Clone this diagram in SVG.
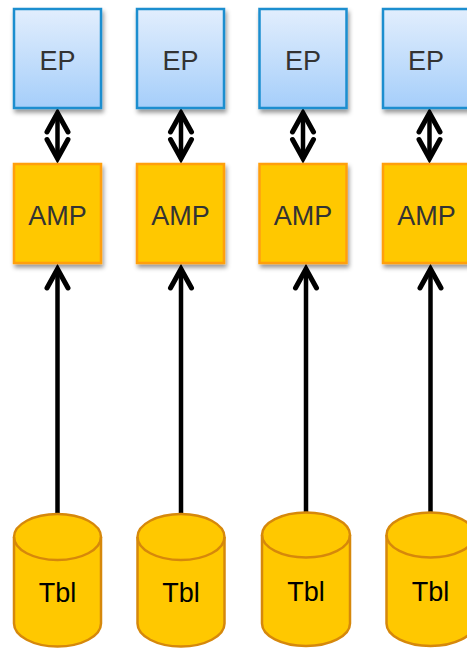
<svg xmlns="http://www.w3.org/2000/svg" width="467" height="648" viewBox="0 0 467 648">
  <defs>
    <linearGradient id="epGrad" x1="0" y1="0" x2="0" y2="1">
      <stop offset="0" stop-color="#e2eefd"/>
      <stop offset="1" stop-color="#a5cefa"/>
    </linearGradient>
    <filter id="shadow" x="-20%" y="-20%" width="140%" height="140%">
      <feDropShadow dx="1.5" dy="3.5" stdDeviation="2" flood-color="#000" flood-opacity="0.4"/>
    </filter>
    <marker id="head" markerUnits="userSpaceOnUse" viewBox="-25 -15 30 30" refX="0" refY="0" markerWidth="30" markerHeight="30" orient="auto-start-reverse" overflow="visible">
      <path d="M-19,-10.5 L0,0 L-19,10.5" fill="none" stroke="#000" stroke-width="5" stroke-linejoin="miter" stroke-linecap="round"/>
    </marker>
    <style>
      .ep { fill: url(#epGrad); stroke: #1a8ecf; stroke-width: 2.5; filter: url(#shadow); }
      .amp { fill: #ffc800; stroke: #ff9f0f; stroke-width: 2.5; filter: url(#shadow); }
      .cyl { fill: #ffc800; stroke: #d6880b; stroke-width: 2.5; }
      .rim { fill: none; stroke: #d6880b; stroke-width: 2.5; }
      .lbl { font-family: "Liberation Sans", Arial, sans-serif; font-size: 27px; text-anchor: middle; fill: #333333; }
      .tbl { font-family: "Liberation Sans", Arial, sans-serif; font-size: 27px; text-anchor: middle; fill: #000000; }
      .conn { stroke: #000; stroke-width: 4.5; fill: none; }
    </style>
  </defs>

  <g id="connectors">
    <line class="conn" x1="57.5" y1="113" x2="57.5" y2="158.5" marker-start="url(#head)" marker-end="url(#head)"/>
    <line class="conn" x1="181" y1="113" x2="181" y2="158.5" marker-start="url(#head)" marker-end="url(#head)"/>
    <line class="conn" x1="303" y1="113" x2="303" y2="158.5" marker-start="url(#head)" marker-end="url(#head)"/>
    <line class="conn" x1="429.5" y1="113" x2="429.5" y2="158.5" marker-start="url(#head)" marker-end="url(#head)"/>
    <line class="conn" x1="57.5" y1="514" x2="57.5" y2="269" marker-end="url(#head)"/>
    <line class="conn" x1="181" y1="514" x2="181" y2="269" marker-end="url(#head)"/>
    <line class="conn" x1="306" y1="512" x2="306" y2="269" marker-end="url(#head)"/>
    <line class="conn" x1="430.5" y1="512" x2="430.5" y2="269" marker-end="url(#head)"/>
  </g>

  <g id="ep1"><rect class="ep" x="14" y="9" width="87" height="99"/><text class="lbl" x="57.5" y="70">EP</text></g>
  <g id="ep2"><rect class="ep" x="137" y="9" width="87" height="99"/><text class="lbl" x="180.5" y="70">EP</text></g>
  <g id="ep3"><rect class="ep" x="259.5" y="9" width="87" height="99"/><text class="lbl" x="303" y="70">EP</text></g>
  <g id="ep4"><rect class="ep" x="383" y="9" width="87" height="99"/><text class="lbl" x="426" y="70">EP</text></g>

  <g id="amp1"><rect class="amp" x="14" y="164" width="87" height="99"/><text class="lbl" x="57.5" y="224.5">AMP</text></g>
  <g id="amp2"><rect class="amp" x="137" y="164" width="87" height="99"/><text class="lbl" x="180.5" y="224.5">AMP</text></g>
  <g id="amp3"><rect class="amp" x="259.5" y="164" width="87" height="99"/><text class="lbl" x="303" y="224.5">AMP</text></g>
  <g id="amp4"><rect class="amp" x="383" y="164" width="87" height="99"/><text class="lbl" x="426.5" y="224.5">AMP</text></g>

  <g id="tbl1">
    <path class="cyl" d="M14,537 a43.5,23 0 0 1 87,0 V623.5 a43.5,23 0 0 1 -87,0 Z"/>
    <path class="rim" d="M14,537 a43.5,23 0 0 0 87,0"/>
    <text class="tbl" x="57.5" y="602">Tbl</text>
  </g>
  <g id="tbl2">
    <path class="cyl" d="M137.5,537 a43.5,23 0 0 1 87,0 V623.5 a43.5,23 0 0 1 -87,0 Z"/>
    <path class="rim" d="M137.5,537 a43.5,23 0 0 0 87,0"/>
    <text class="tbl" x="181" y="602">Tbl</text>
  </g>
  <g id="tbl3">
    <path class="cyl" d="M262,535 a44,22.5 0 0 1 88,0 V623.5 a44,22.5 0 0 1 -88,0 Z"/>
    <path class="rim" d="M262,535 a44,22.5 0 0 0 88,0"/>
    <text class="tbl" x="306" y="601">Tbl</text>
  </g>
  <g id="tbl4">
    <path class="cyl" d="M386.5,535 a44,22.5 0 0 1 88,0 V623.5 a44,22.5 0 0 1 -88,0 Z"/>
    <path class="rim" d="M386.5,535 a44,22.5 0 0 0 88,0"/>
    <text class="tbl" x="430.5" y="601">Tbl</text>
  </g>
</svg>
